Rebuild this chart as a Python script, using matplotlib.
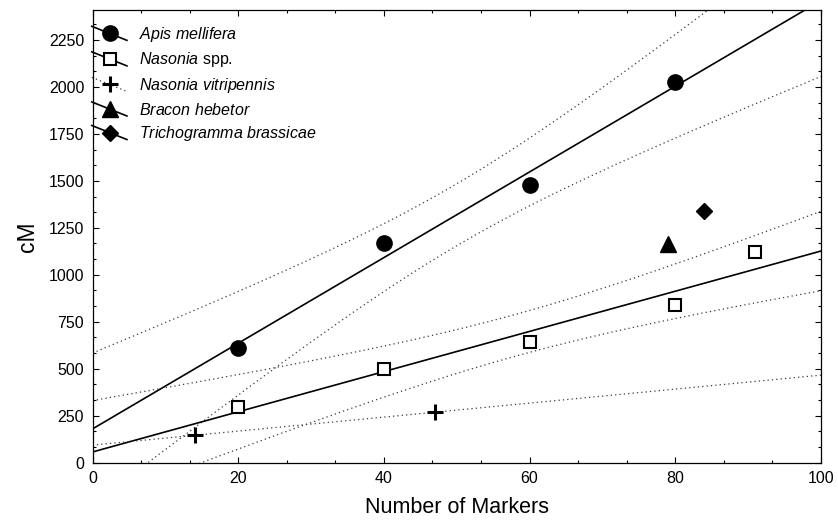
import numpy as np
import matplotlib
matplotlib.use("Agg")
import matplotlib.pyplot as plt
from matplotlib.lines import Line2D
from matplotlib.legend_handler import HandlerLine2D
from matplotlib.ticker import MultipleLocator

plt.rcParams["font.family"] = ["Liberation Sans", "DejaVu Sans"]
plt.rcParams["mathtext.fontset"] = "custom"
plt.rcParams["mathtext.it"] = "Liberation Sans:italic"
plt.rcParams["mathtext.rm"] = "Liberation Sans"

# ---- data ----
apis_x = [20, 40, 60, 80]
apis_y = [608, 1167, 1478, 2025]
nas_x = [20, 40, 60, 80, 91]
nas_y = [298, 497, 640, 838, 1122]
vit_x = [14, 47]
vit_y = [145, 268]
bracon_x = [79]
bracon_y = [1162]
tricho_x = [84]
tricho_y = [1340]

labels = [r"$\mathit{Apis\ mellifera}$", r"$\mathit{Nasonia}$ spp.",
          r"$\mathit{Nasonia\ vitripennis}$", r"$\mathit{Bracon\ hebetor}$",
          r"$\mathit{Trichogramma\ brassicae}$"]
xticks = [0, 20, 40, 60, 80, 100]
yticks = [0, 250, 500, 750, 1000, 1250, 1500, 1750, 2000, 2250]
t_crit = {2: 4.303, 3: 3.182}  # Student t, 95 %, two-sided


def regression(x, y, xs):
    x = np.asarray(x, float)
    y = np.asarray(y, float)
    b, a = np.polyfit(x, y, 1)
    yhat = a + b * xs
    n = len(x)
    if n <= 2:
        return yhat, None
    resid = y - (a + b * x)
    s = np.sqrt(np.sum(resid ** 2) / (n - 2))
    se = s * np.sqrt(1.0 / n + (xs - x.mean()) ** 2 / np.sum((x - x.mean()) ** 2))
    return yhat, t_crit[n - 2] * se


class DiagHandler(HandlerLine2D):
    def create_artists(self, legend, orig_handle, xdescent, ydescent,
                       width, height, fontsize, trans):
        x0 = -xdescent
        yc = -ydescent + height / 2.0
        dy = width * 0.2
        line = Line2D([x0, x0 + width], [yc + dy, yc - dy])
        self.update_prop(line, orig_handle, legend)
        line.set_marker("None")
        line.set_transform(trans)
        mk = Line2D([x0 + width * 0.53], [yc])
        self.update_prop(mk, orig_handle, legend)
        mk.set_linestyle("None")
        mk.set_transform(trans)
        return [line, mk]


fig = plt.figure(figsize=(8.38, 5.25), dpi=100)
ax = fig.add_axes([0.1104, 0.119, 0.8693, 0.862])

xs = np.linspace(0, 100, 400)
dot = (0, (1, 2.5))
dot_kw = dict(color="#3a3a3a", lw=0.9, linestyle=dot)

# Apis mellifera
yh, ci = regression(apis_x, apis_y, xs)
ax.plot(xs, yh, color="black", lw=1.2)
ax.plot(xs, yh + ci, **dot_kw)
ax.plot(xs, yh - ci, **dot_kw)
# Nasonia spp.
yh2, ci2 = regression(nas_x, nas_y, xs)
ax.plot(xs, yh2, color="black", lw=1.2)
ax.plot(xs, yh2 + ci2, **dot_kw)
ax.plot(xs, yh2 - ci2, **dot_kw)
# Nasonia vitripennis
yh3, _ = regression(vit_x, vit_y, xs)
ax.plot(xs, yh3, **dot_kw)

ax.plot(apis_x, apis_y, "o", color="black", ms=11, linestyle="None")
ax.plot(nas_x, nas_y, "s", mfc="white", mec="black", mew=1.5, ms=9, linestyle="None")
ax.plot(vit_x, vit_y, "+", color="black", mew=2.2, ms=11, linestyle="None")
ax.plot(bracon_x, bracon_y, "^", color="black", ms=11, linestyle="None")
ax.plot(tricho_x, tricho_y, "D", color="black", ms=8, linestyle="None")

# legend proxies
p1 = Line2D([], [], color="black", lw=1.2, marker="o", ms=11)
p2 = Line2D([], [], color="black", lw=1.2, marker="s", mfc="white", mec="black", mew=1.5, ms=9)
p3 = Line2D([], [], color="#3a3a3a", lw=0.9, linestyle=dot, marker="+", mec="black", mew=2.2, ms=11)
p4 = Line2D([], [], color="black", lw=1.2, marker="^", ms=11)
p5 = Line2D([], [], color="black", lw=1.2, marker="D", ms=8)

leg = ax.legend([p1, p2, p3, p4, p5], labels, loc="upper left",
                bbox_to_anchor=(-0.001, 0.967), borderaxespad=0, borderpad=0,
                frameon=False, fontsize=11.5, handlelength=2.2,
                handletextpad=0.75, labelspacing=0.41,
                handler_map={Line2D: DiagHandler()})

ax.set_xlim(0, 100)
ax.set_ylim(0, 2410)
ax.set_xticks(xticks)
ax.set_yticks(yticks)
ax.xaxis.set_minor_locator(MultipleLocator(20 / 3))
ax.yaxis.set_minor_locator(MultipleLocator(250 / 3))
ax.tick_params(which="both", direction="in", top=True, right=True,
               labelsize=11.5, width=0.8)
ax.tick_params(which="major", length=4, pad=6)
ax.tick_params(which="minor", length=2.5)
for s in ax.spines.values():
    s.set_linewidth(0.9)

ax.set_xlabel("Number of Markers", fontsize=15.5, labelpad=8)
ax.set_ylabel("cM", fontsize=16.5, labelpad=7)

fig.savefig("out.png", dpi=100)
